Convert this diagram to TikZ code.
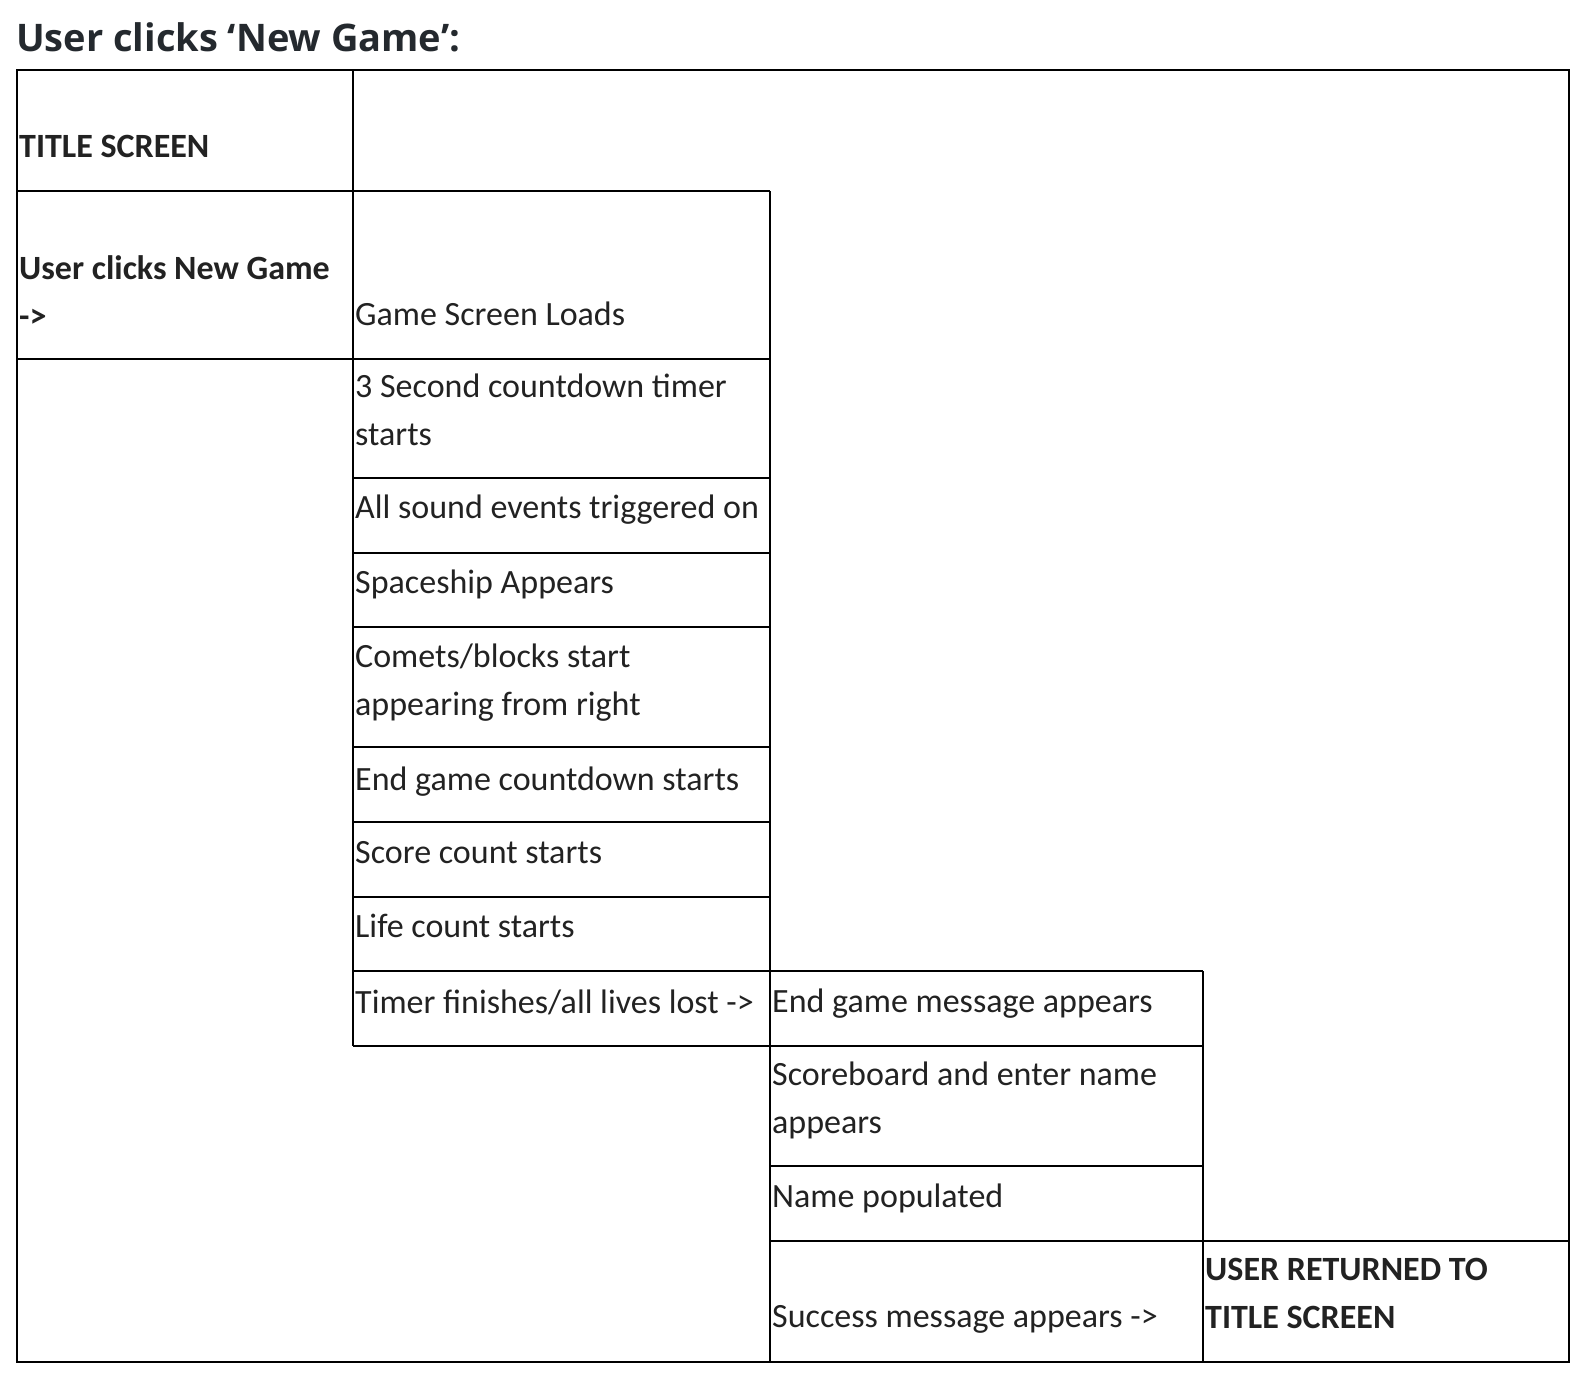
\documentclass[tikz,border=0pt]{standalone}
\usepackage{fontspec}
\setmainfont{Carlito}
\newfontfamily\headfont{Open Sans}
\usetikzlibrary{positioning}
\definecolor{ink}{HTML}{222222}
\definecolor{headink}{HTML}{24292E}

\begin{document}
\begin{tikzpicture}[x=1pt, y=-1pt,
  grid/.style={line width=2pt},
  cell/.style={anchor=base west, inner sep=0pt, align=left, text=ink,
    font=\fontsize{34}{48}\selectfont},
  boldcell/.style={cell, font=\fontsize{34}{48}\selectfont\bfseries},
  twoline/.style={yshift=-50pt}]
\useasboundingbox (0,0) rectangle (1586,1378);

% heading
\node[anchor=base west, inner sep=0pt, text=headink,
  font=\headfont\fontsize{38}{44}\selectfont\bfseries] (heading) at (16,52) {User clicks ‘New Game’:};

% frame and first column
\draw[grid] (17,70) rectangle (1569,1362);
\draw[grid] (353,70) -- (353,1046);
\draw[grid] (17,191) -- (770,191);
\draw[grid] (17,359) -- (770,359);
% second column
\draw[grid] (770,191) -- (770,1362);
\foreach \y in {478,553,627,747,822,897,971}
  \draw[grid] (353,\y) -- (770,\y);
\draw[grid] (353,1046) -- (1203,1046);
% third and fourth column
\draw[grid] (770,971) -- (1203,971);
\draw[grid] (1203,971) -- (1203,1362);
\draw[grid] (770,1166) -- (1203,1166);
\draw[grid] (770,1241) -- (1569,1241);

% first column
\node[boldcell] (title) at (19,157) {TITLE SCREEN};
\node[boldcell, twoline] (click) at (19,277) {User clicks New Game\\->};
% second column
\node[cell] (load) at (355,325) {Game Screen Loads};
\node[cell, twoline] (timer) at (355,395) {3 Second countdown timer\\starts};
\node[cell] (sound) at (355,518) {All sound events triggered on};
\node[cell] (ship) at (355,593) {Spaceship Appears};
\node[cell, twoline] (comets) at (355,665) {Comets/blocks start\\appearing from right};
\node[cell] (endcount) at (355,790) {End game countdown starts};
\node[cell] (score) at (355,863) {Score count starts};
\node[cell] (life) at (355,937) {Life count starts};
\node[cell] (finish) at (355,1013) {Timer finishes/all lives lost ->};
% third column
\node[cell] (endmsg) at (772,1012) {End game message appears};
\node[cell, twoline] (board) at (772,1083) {Scoreboard and enter name\\appears};
\node[cell] (name) at (772,1207) {Name populated};
\node[cell] (success) at (772,1327) {Success message appears ->};
% fourth column
\node[boldcell, twoline] (back) at (1205,1278) {USER RETURNED TO\\TITLE SCREEN};
\end{tikzpicture}
\end{document}
